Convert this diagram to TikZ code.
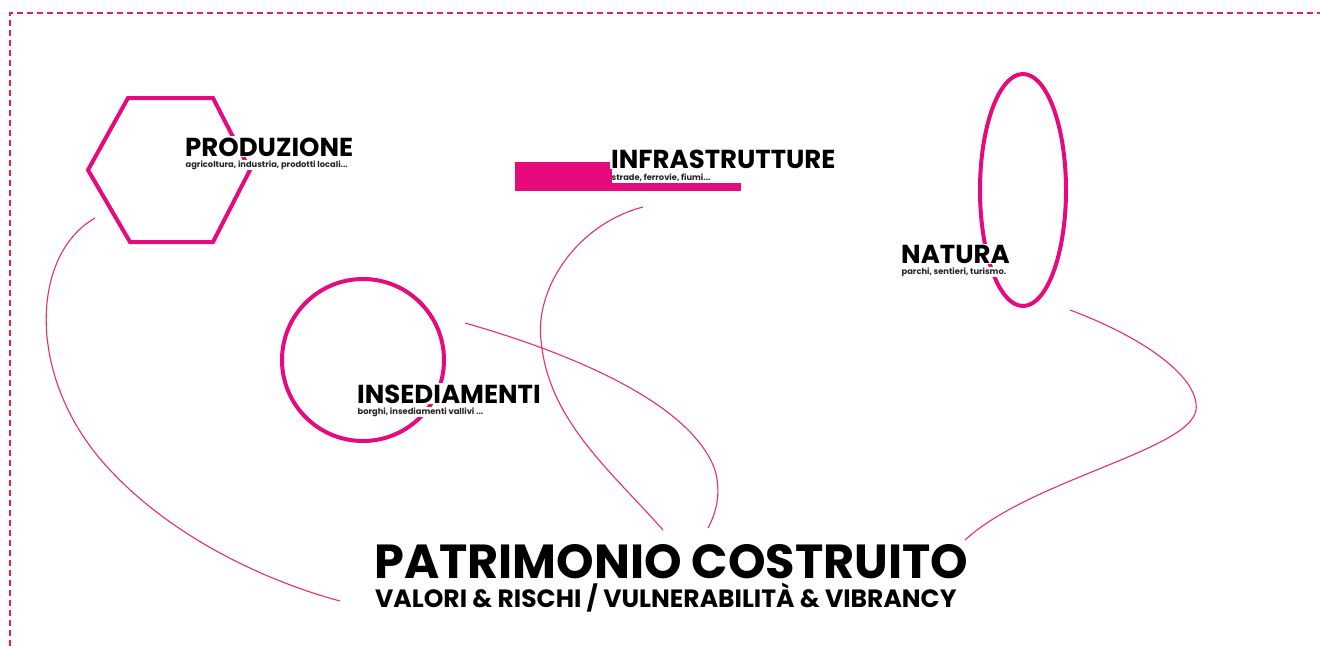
\documentclass[tikz,border=0pt]{standalone}
\usepackage{fontspec}
\setmainfont{Poppins}
\definecolor{pk}{RGB}{230,10,125}
\definecolor{pkl}{RGB}{236,45,110}
\definecolor{dsh}{RGB}{232,30,90}
\newcommand\hdfont{\fontsize{26}{26}\selectfont\bfseries}
\newcommand\sbfont{\fontsize{8.3}{8.3}\selectfont\bfseries}
\tikzset{
  shapeline/.style={draw=pk, line width=4pt},
  link/.style={draw=pkl, line width=1.1pt},
  head/.style={anchor=base west, fill=white, inner sep=1pt, text=black, font=\hdfont},
  sub/.style={anchor=base west, fill=white, inner sep=0.5pt, text=black!85, font=\sbfont},
  frame/.style={draw=dsh, line width=1.6pt, dash pattern=on 6pt off 4pt}
}
\begin{document}
\begin{tikzpicture}[x=1pt,y=-1pt]
\useasboundingbox (0,0) rectangle (1320,646);
\fill[white] (0,0) rectangle (1320,646);
% frame
\draw[frame] (10,646) -- (10,13) -- (1320,13);
% connectors (behind everything)
\coordinate (p1) at (95,218);
\coordinate (p1e) at (340,601);
\coordinate (i1) at (643,207);
\coordinate (i1e) at (663,530);
\coordinate (s1) at (465,323);
\coordinate (s1e) at (708,528);
\coordinate (n1) at (1070,310);
\coordinate (n1e) at (965,540);
\draw[link] (p1) .. controls (30,255) and (25,380) .. (110,470) .. controls (180,545) and (280,585) .. (p1e);
\draw[link] (i1) .. controls (575,225) and (535,290) .. (541,340) .. controls (548,420) and (610,470) .. (i1e);
\draw[link] (s1) .. controls (560,350) and (690,400) .. (715,470) .. controls (722,495) and (715,515) .. (s1e);
\draw[link] (n1) .. controls (1150,340) and (1200,380) .. (1196,410) .. controls (1190,450) and (1030,480) .. (n1e);
% shapes
\draw[shapeline, line join=miter] (128,98) -- (213,98) -- (250,170) -- (213,242) -- (130,242) -- (88,170) -- cycle;
\draw[shapeline] (363,360) circle[radius=81pt];
\draw[shapeline] (1023,190) ellipse[x radius=43pt, y radius=116pt];
\fill[pk] (515,162) rectangle (612,191);
\fill[pk] (612,183) rectangle (741,191);
% labels
\node[head] (prod) at (184,156) {PRODUZIONE};
\node[sub] (prods) at (185,167) {agricoltura, industria, prodotti locali...};
\node[head] (infr) at (610,168) {INFRASTRUTTURE};
\node[sub, fill=none] (infrs) at (611,180) {strade, ferrovie, fiumi...};
\node[head] (nat) at (900,263) {NATURA};
\node[sub] (nats) at (901,274) {parchi, sentieri, turismo.};
\node[head] (ins) at (356,403) {INSEDIAMENTI};
\node[sub] (inss) at (357,414) {borghi, insediamenti vallivi ...};
\node[anchor=base west, inner sep=0pt, font=\fontsize{47.8}{47.8}\selectfont\bfseries] (pat) at (374,578) {PATRIMONIO COSTRUITO};
\node[anchor=base west, inner sep=0pt, font=\fontsize{25}{25}\selectfont\bfseries] (val) at (375,607) {VALORI \& RISCHI / VULNERABILITÀ \& VIBRANCY};
\end{tikzpicture}
\end{document}
